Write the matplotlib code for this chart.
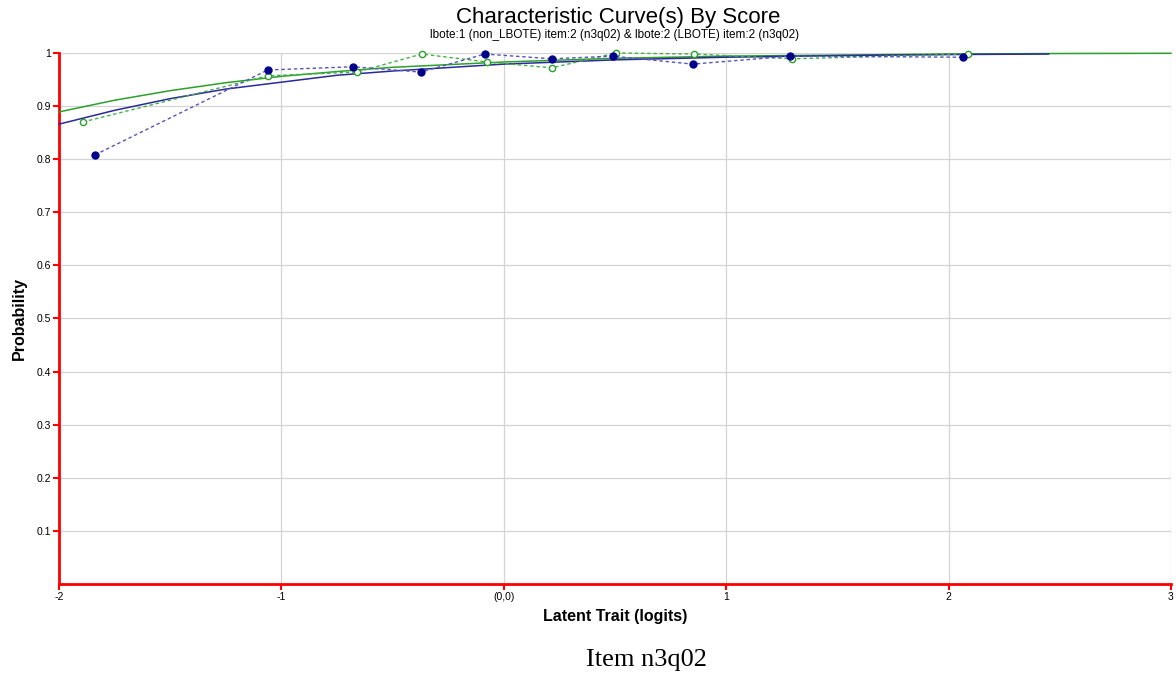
import numpy as np
import matplotlib.pyplot as plt

# observed proportions, non_LBOTE (blue) and LBOTE (green)
blue_x = [-1.839, -1.061, -0.679, -0.373, -0.085, 0.216, 0.490, 0.850, 1.286, 2.064]
blue_y = [0.808, 0.968, 0.974, 0.964, 0.998, 0.989, 0.994, 0.979, 0.994, 0.992]
green_x = [-1.893, -1.061, -0.661, -0.369, -0.076, 0.216, 0.504, 0.854, 1.295, 2.086]
green_y = [0.870, 0.957, 0.964, 0.998, 0.983, 0.972, 1.000, 0.998, 0.989, 0.998]

# model curves
curve_x_blue = [-2.0, -1.75, -1.5, -1.25, -1.0, -0.75, -0.5, 0.0, 0.5, 1.0, 1.5, 2.0, 2.45]
curve_y_blue = [0.866, 0.892, 0.914, 0.932, 0.945, 0.958, 0.966, 0.979, 0.987, 0.992, 0.995, 0.997, 0.998]
curve_x_green = [-2.0, -1.75, -1.5, -1.25, -1.0, -0.75, -0.5, 0.0, 0.5, 1.0, 1.5, 2.0, 2.5, 3.0]
curve_y_green = [0.889, 0.911, 0.929, 0.944, 0.956, 0.965, 0.973, 0.983, 0.990, 0.994, 0.996, 0.998, 0.999, 0.9994]

x_ticks = [-2, -1, 0, 1, 2, 3]
x_tick_labels = ["-2", "-1", "(0,0)", "1", "2", "3"]
y_ticks = [0.1, 0.2, 0.3, 0.4, 0.5, 0.6, 0.7, 0.8, 0.9, 1.0]
y_tick_labels = ["0.1", "0.2", "0.3", "0.4", "0.5", "0.6", "0.7", "0.8", "0.9", "1"]

plt.rcParams['font.family'] = ['Liberation Sans', 'DejaVu Sans']

fig = plt.figure(figsize=(11.76, 6.79), dpi=100)
ax = fig.add_axes([0.0502, 0.1399, 0.9455, 0.7821])

ax.plot(curve_x_green, curve_y_green, color='#2ca02c', lw=1.1, zorder=3, clip_on=False)
ax.plot(curve_x_blue, curve_y_blue, color='#2a2a9a', lw=1.1, zorder=3, clip_on=False)
ax.plot(green_x, green_y, color='#44b044', lw=1, ls=(0, (2.5, 2)), marker='o', ms=4.5,
        mfc='white', mec='#2ca02c', mew=1, zorder=4, clip_on=False)
ax.plot(blue_x, blue_y, color='#5555bb', lw=1, ls=(0, (2.5, 2)), marker='o', ms=5,
        mfc='#00008b', mec='#00008b', zorder=5, clip_on=False)

ax.set_xlim(-2, 3)
ax.set_ylim(0, 1)
ax.set_xticks(x_ticks)
ax.set_xticklabels(x_tick_labels, fontsize=7.5)
ax.set_yticks(y_ticks)
ax.set_yticklabels(y_tick_labels, fontsize=7.5)
ax.grid(True, color='#d4d4d4', lw=0.9)
ax.set_axisbelow(True)

for s in ['top', 'right']:
    ax.spines[s].set_visible(False)
for s in ['left', 'bottom']:
    ax.spines[s].set_color('red')
    ax.spines[s].set_linewidth(2)
ax.tick_params(axis='both', colors='red', length=4, width=1.5, labelcolor='black', pad=2)

ax.set_xlabel("Latent Trait (logits)", fontsize=11.5, fontweight='bold', labelpad=5)
ax.set_ylabel("Probability", fontsize=11.5, fontweight='bold', labelpad=7)

fig.text(0.5255, 0.974, "Characteristic Curve(s) By Score", ha='center', va='center', fontsize=16)
fig.text(0.5225, 0.948, "lbote:1 (non_LBOTE) item:2 (n3q02) & lbote:2 (LBOTE) item:2 (n3q02)",
         ha='center', va='center', fontsize=8.5)
fig.text(0.550, 0.028, "Item n3q02", ha='center', va='center', fontsize=19,
         family=['Liberation Serif', 'DejaVu Serif'])

fig.savefig("out.png", dpi=100)
